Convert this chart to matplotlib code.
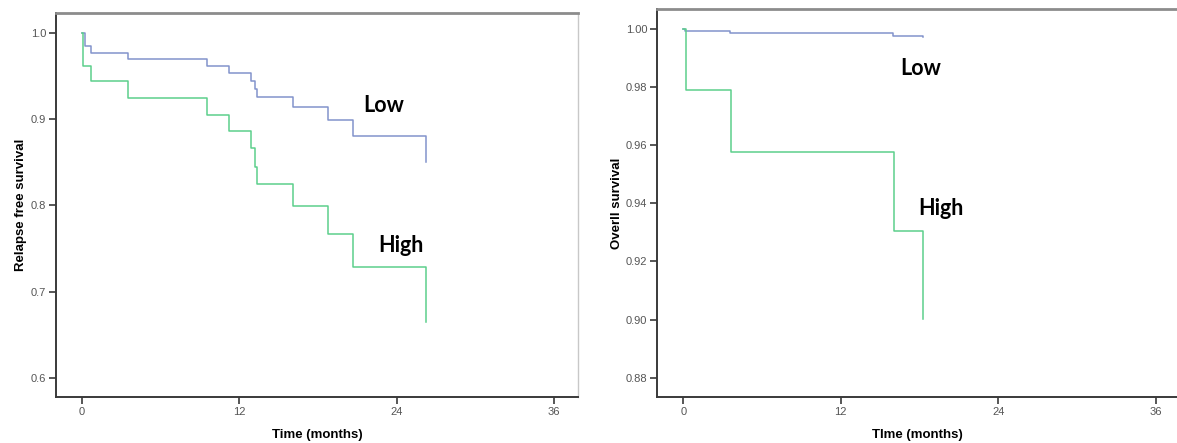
# Kaplan-Meier curves: relapse free survival and overall survival, Low vs High
import matplotlib.pyplot as plt

# left panel: relapse free survival
rfs_low_t = [0, 0.2, 0.65, 3.5, 9.5, 11.2, 12.9, 13.2, 13.35, 16.1, 18.8, 20.7, 26.2]
rfs_low_s = [1.0, 0.985, 0.977, 0.970, 0.961, 0.953, 0.944, 0.935, 0.926, 0.914, 0.899, 0.881, 0.850]
rfs_high_t = [0, 0.05, 0.7, 3.5, 9.5, 11.2, 12.9, 13.2, 13.35, 16.1, 18.8, 20.7, 26.2]
rfs_high_s = [1.0, 0.962, 0.944, 0.924, 0.905, 0.886, 0.866, 0.845, 0.825, 0.799, 0.767, 0.729, 0.665]

# right panel: overall survival
os_low_t = [0, 0.1, 3.56, 16.0, 18.24]
os_low_s = [1.0, 0.9995, 0.9986, 0.9977, 0.9975]
os_high_t = [0, 0.2, 3.6, 16.08, 18.24]
os_high_s = [1.0, 0.9791, 0.9578, 0.9306, 0.9001]

x_ticks = [0, 12, 24, 36]
rfs_ticks = [0.6, 0.7, 0.8, 0.9, 1.0]
rfs_labels = ["0.6", "0.7", "0.8", "0.9", "1.0"]
os_ticks = [0.88, 0.90, 0.92, 0.94, 0.96, 0.98, 1.00]
os_labels = ["0.88", "0.90", "0.92", "0.94", "0.96", "0.98", "1.00"]

blue = "#8393cc"
green = "#5ccf8c"

fig = plt.figure(figsize=(11.77, 4.43), dpi=100)
ax1 = fig.add_axes([0.0476, 0.1038, 0.4435, 0.8669])
ax2 = fig.add_axes([0.5582, 0.1038, 0.4418, 0.8752])


def style(ax):
    for s in ["left", "bottom"]:
        ax.spines[s].set_color("#3a3a3a")
        ax.spines[s].set_linewidth(1.4)
    ax.spines["top"].set_color("#8c8c8c")
    ax.spines["top"].set_linewidth(2.0)
    ax.spines["right"].set_color("#c8c8c8")
    ax.spines["right"].set_linewidth(1.0)
    ax.tick_params(direction="out", length=5, width=1.2, color="#3a3a3a",
                   labelsize=8, labelcolor="#555555", pad=2)
    ax.set_xticks(x_ticks)
    ax.set_xticklabels([str(t) for t in x_ticks], family="Liberation Sans")


# left
ax1.step(rfs_low_t, rfs_low_s, where="post", color=blue, lw=1.1)
ax1.step(rfs_high_t, rfs_high_s, where="post", color=green, lw=1.1)
ax1.set_xlim(-1.98, 37.83)
ax1.set_ylim(0.578, 1.023)
ax1.set_yticks(rfs_ticks)
ax1.set_yticklabels(rfs_labels, family="Liberation Sans")
style(ax1)
ax1.set_xlabel("Time (months)", fontsize=9.5, fontweight="bold", family="Liberation Sans", labelpad=9)
ax1.set_ylabel("Relapse free survival", fontsize=9.5, fontweight="bold", family="Liberation Sans", labelpad=3)
ax1.text(21.43, 0.9084, "Low", fontsize=15.5, fontweight="bold", family="Lato", ha="left", va="baseline")
ax1.text(22.58, 0.7464, "High", fontsize=15.5, fontweight="bold", family="Lato", ha="left", va="baseline")

# right
ax2.step(os_low_t, os_low_s, where="post", color=blue, lw=1.1)
ax2.step(os_high_t, os_high_s, where="post", color=green, lw=1.1)
ax2.set_xlim(-2.0, 37.6)
ax2.set_ylim(0.8733, 1.0069)
ax2.set_yticks(os_ticks)
ax2.set_yticklabels(os_labels, family="Liberation Sans")
style(ax2)
ax2.spines["right"].set_visible(False)
ax2.set_xlabel("TIme (months)", fontsize=9.5, fontweight="bold", family="Liberation Sans", labelpad=9)
ax2.set_ylabel("Overll survival", fontsize=9.5, fontweight="bold", family="Liberation Sans", labelpad=2)
ax2.text(16.56, 0.98426, "Low", fontsize=15.5, fontweight="bold", family="Lato", ha="left", va="baseline")
ax2.text(17.88, 0.93603, "High", fontsize=15.5, fontweight="bold", family="Lato", ha="left", va="baseline")

fig.savefig("out.png", dpi=100)
